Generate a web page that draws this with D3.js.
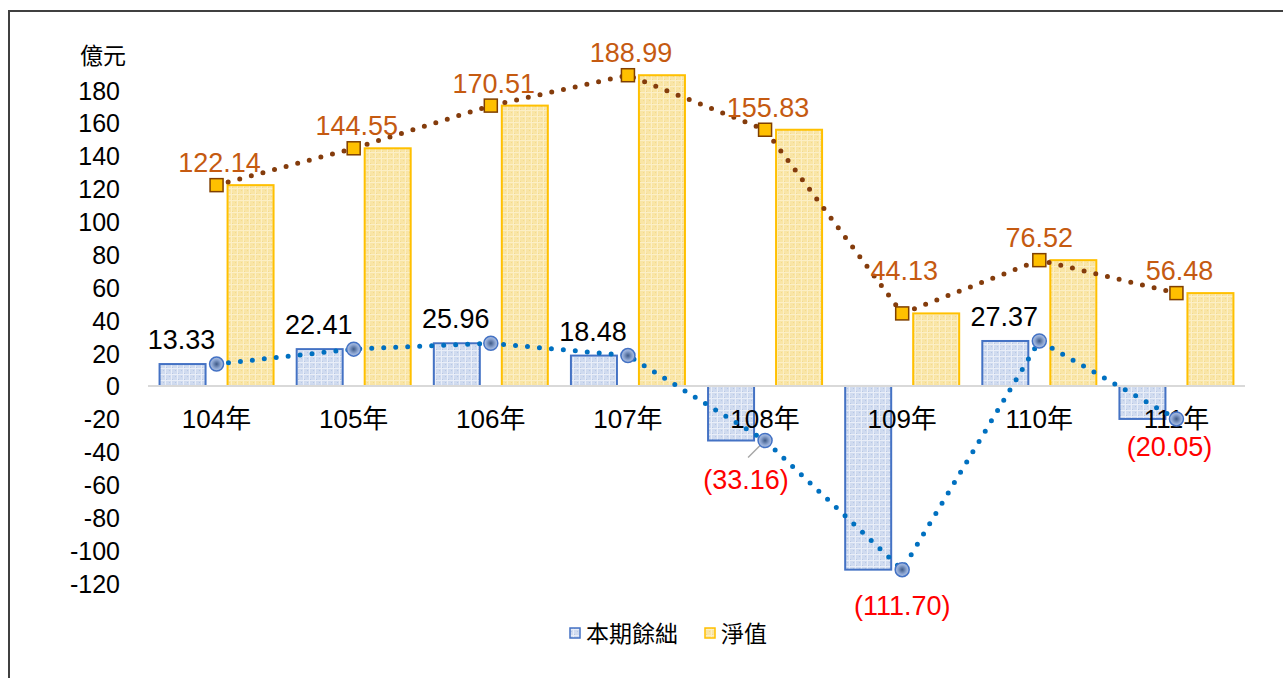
<!DOCTYPE html>
<html>
<head>
<meta charset="utf-8">
<script src="https://cdn.jsdelivr.net/npm/d3@7"></script>
<style>
body { margin: 0; background: #fff; }
svg { display: block; font-family: "Liberation Sans", Arial, "Noto Sans CJK TC", sans-serif; }
</style>
</head>
<body>
<svg id="chart" width="1283" height="678"></svg>
<script>
// data
var years = ["104年", "105年", "106年", "107年", "108年", "109年", "110年", "111年"];
var surplus = [13.33, 22.41, 25.96, 18.48, -33.16, -111.70, 27.37, -20.05];
var netWorth = [122.14, 144.55, 170.51, 188.99, 155.83, 44.13, 76.52, 56.48];
var yTicks = [180, 160, 140, 120, 100, 80, 60, 40, 20, 0, -20, -40, -60, -80, -100, -120];
var seriesNames = ["本期餘絀", "淨值"];

// label nudges (dx, dy of baseline from marker)
var surplusNudge = [[-35, -15], [-35, -15], [-35, -15], [-35, -15], [-19, 48], [0, 45], [-35, -15], [-7, 37]];
var netNudge = [[3, -13], [3, -13], [3, -13], [3, -13], [3, -13], [2, -33], [0, -13], [3, -13]];

var svg = d3.select("#chart");

// frame
svg.append("path")
	.attr("d", "M9,678 L9,11 L1283,11")
	.attr("fill", "none")
	.attr("stroke", "#404040")
	.attr("stroke-width", 2);

var x = d3.scaleBand().domain(years).range([148, 1245]);
var inner = d3.scaleBand().domain(["s", "n"]).range([0, x.bandwidth()])
	.paddingInner(0.3235).paddingOuter(0.17);
var y = d3.scaleLinear().domain([-120, 180]).range([583.3, 90]);

// patterns
var defs = svg.append("defs");
function makePattern(id, base, light, dark) {
	var p = defs.append("pattern").attr("id", id)
		.attr("width", 6).attr("height", 6).attr("patternUnits", "userSpaceOnUse");
	p.append("rect").attr("width", 6).attr("height", 6).attr("fill", base);
	p.append("rect").attr("x", 0).attr("y", 2).attr("width", 6).attr("height", 1).attr("fill", light);
	p.append("rect").attr("x", 3).attr("y", 0).attr("width", 1).attr("height", 6).attr("fill", light);
	p.append("rect").attr("x", 1).attr("y", 4).attr("width", 1).attr("height", 1).attr("fill", dark);
	p.append("rect").attr("x", 4).attr("y", 1).attr("width", 1).attr("height", 1).attr("fill", dark);
}
makePattern("patBlue", "#d0dbef", "#e9eef8", "#b7c7e5");
makePattern("patYellow", "#f9e5a6", "#fcefc6", "#f3da8c");

var grad = defs.append("radialGradient").attr("id", "ballGrad");
grad.append("stop").attr("offset", "0%").attr("stop-color", "#3e5a88");
grad.append("stop").attr("offset", "60%").attr("stop-color", "#8aa3cf");
grad.append("stop").attr("offset", "100%").attr("stop-color", "#b4c6e7");

// y axis labels
var yAxis = svg.append("g").attr("transform", "translate(120,0)")
	.call(d3.axisLeft(y).tickValues(yTicks).tickSize(0).tickPadding(0)
		.tickFormat(function(d) { return String(d); }));
yAxis.select(".domain").remove();
yAxis.selectAll("text")
	.attr("font-size", 25)
	.attr("font-family", "Liberation Sans, Arial, sans-serif")
	.attr("fill", "#000")
	.attr("dy", "0.36em");

svg.append("text")
	.attr("x", 126).attr("y", 64)
	.attr("text-anchor", "end")
	.attr("font-size", 23)
	.attr("font-family", "Noto Sans CJK TC, sans-serif")
	.text("億元");

// bars
var bars = svg.append("g");
bars.selectAll("rect.s").data(surplus).enter().append("rect")
	.attr("x", function(d, i) { return x(years[i]) + inner("s"); })
	.attr("y", function(d) { return y(Math.max(0, d)); })
	.attr("width", inner.bandwidth())
	.attr("height", function(d) { return Math.abs(y(d) - y(0)); })
	.attr("fill", "url(#patBlue)")
	.attr("stroke", "#4472c4")
	.attr("stroke-width", 2);
bars.selectAll("rect.n").data(netWorth).enter().append("rect")
	.attr("x", function(d, i) { return x(years[i]) + inner("n"); })
	.attr("y", function(d) { return y(Math.max(0, d)); })
	.attr("width", inner.bandwidth())
	.attr("height", function(d) { return Math.abs(y(d) - y(0)); })
	.attr("fill", "url(#patYellow)")
	.attr("stroke", "#ffc000")
	.attr("stroke-width", 2);

// zero line
svg.append("line")
	.attr("x1", 148).attr("x2", 1245)
	.attr("y1", y(0)).attr("y2", y(0))
	.attr("stroke", "#d9d9d9").attr("stroke-width", 2);

// category labels
svg.append("g").selectAll("text").data(years).enter().append("text")
	.attr("x", function(d) { return x(d) + x.bandwidth() / 2; })
	.attr("y", 428)
	.attr("text-anchor", "middle")
	.attr("font-size", 26)
	.text(function(d) { return d; });

function cx(i) { return x(years[i]) + x.bandwidth() / 2; }

// lines
var line = d3.line().x(function(d, i) { return cx(i); }).y(function(d) { return y(d); });
svg.append("path").datum(netWorth)
	.attr("d", line)
	.attr("fill", "none")
	.attr("stroke", "#843c0c")
	.attr("stroke-width", 5)
	.attr("stroke-linecap", "round")
	.attr("stroke-dasharray", "0 12");
svg.append("path").datum(surplus)
	.attr("d", line)
	.attr("fill", "none")
	.attr("stroke", "#0070c0")
	.attr("stroke-width", 5)
	.attr("stroke-linecap", "round")
	.attr("stroke-dasharray", "0 12");

// leader line for 108
svg.append("line")
	.attr("x1", cx(4) - 17).attr("y1", y(surplus[4]) + 17)
	.attr("x2", cx(4) - 5).attr("y2", y(surplus[4]) + 5)
	.attr("stroke", "#a6a6a6").attr("stroke-width", 1.5);

// markers
svg.append("g").selectAll("rect").data(netWorth).enter().append("rect")
	.attr("x", function(d, i) { return cx(i) - 6.5; })
	.attr("y", function(d) { return y(d) - 6.5; })
	.attr("width", 13).attr("height", 13)
	.attr("fill", "#ffc000")
	.attr("stroke", "#7f3f00")
	.attr("stroke-width", 1.5);
svg.append("g").selectAll("circle").data(surplus).enter().append("circle")
	.attr("cx", function(d, i) { return cx(i); })
	.attr("cy", function(d) { return y(d); })
	.attr("r", 7)
	.attr("fill", "url(#ballGrad)")
	.attr("stroke", "#4472c4")
	.attr("stroke-width", 1.5);

// data labels
svg.append("g").selectAll("text").data(netWorth).enter().append("text")
	.attr("x", function(d, i) { return cx(i) + netNudge[i][0]; })
	.attr("y", function(d, i) { return y(d) + netNudge[i][1]; })
	.attr("text-anchor", "middle")
	.attr("font-size", 27)
	.attr("fill", "#c55a11")
	.text(function(d) { return d.toFixed(2); });
svg.append("g").selectAll("text").data(surplus).enter().append("text")
	.attr("x", function(d, i) { return cx(i) + surplusNudge[i][0]; })
	.attr("y", function(d, i) { return y(d) + surplusNudge[i][1]; })
	.attr("text-anchor", "middle")
	.attr("font-size", 27)
	.attr("fill", function(d) { return d < 0 ? "#ff0000" : "#000"; })
	.text(function(d) { return d < 0 ? "(" + Math.abs(d).toFixed(2) + ")" : d.toFixed(2); });

// legend
var legend = svg.append("g").attr("transform", "translate(0,633)");
var legendItems = [
	{ name: seriesNames[0], fill: "url(#patBlue)", stroke: "#4472c4", x: 570 },
	{ name: seriesNames[1], fill: "url(#patYellow)", stroke: "#ffc000", x: 705 }
];
legendItems.forEach(function(it) {
	legend.append("rect")
		.attr("x", it.x).attr("y", -5)
		.attr("width", 10).attr("height", 10)
		.attr("fill", it.fill).attr("stroke", it.stroke).attr("stroke-width", 1.5);
	legend.append("text")
		.attr("x", it.x + 16).attr("y", 9)
		.attr("font-size", 23)
		.attr("font-family", "Noto Sans CJK TC, sans-serif")
		.text(it.name);
});
</script>
</body>
</html>
